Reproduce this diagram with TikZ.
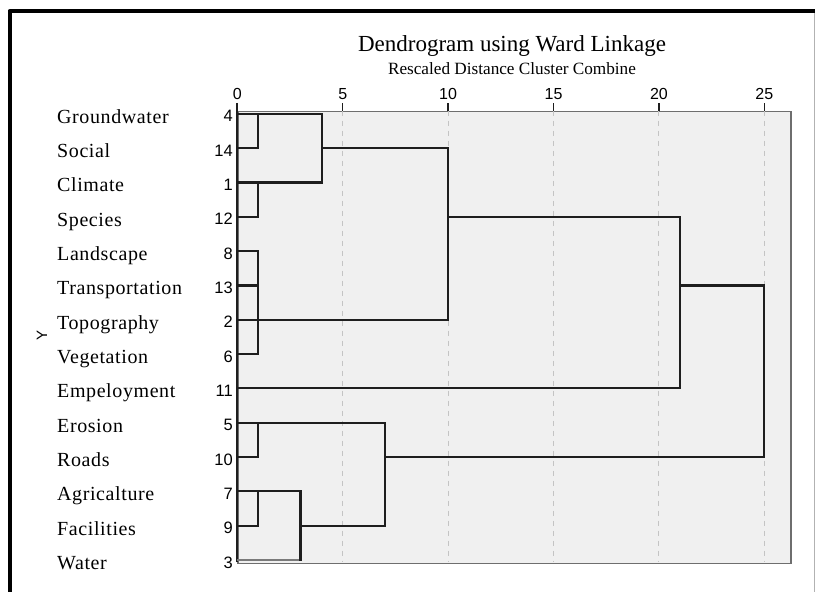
\documentclass[tikz,border=0pt]{standalone}
\usepackage{fontspec}
\setmainfont{Liberation Serif}
\newfontfamily\numfont{Liberation Sans}
\newfontfamily\leaffont[LetterSpace=3]{Liberation Serif}
\definecolor{plotbg}{HTML}{F0F0F0}
\definecolor{plotedge}{HTML}{6E6E6E}
\definecolor{gridc}{HTML}{C4C4C4}
\definecolor{linec}{HTML}{1E1E1E}
\definecolor{lightline}{HTML}{7A7A7A}
\begin{document}
\begin{tikzpicture}[x=1pt,y=-1pt,
  leafname/.style={anchor=base west,inner sep=0pt,font=\leaffont\fontsize{20}{21}\selectfont},
  leafnum/.style={anchor=base east,inner sep=0pt,font=\numfont\fontsize{16.5}{17}\selectfont},
  ticklab/.style={anchor=base,inner sep=0pt,font=\numfont\fontsize{16}{17}\selectfont},
  dline/.style={draw=linec,line width=2.1pt,line cap=rect},
  lline/.style={draw=lightline,line width=2.1pt},
  gridline/.style={draw=gridc,line width=1pt,dash pattern=on 5pt off 5pt},
  tickmark/.style={draw=linec,line width=1.5pt}]
\useasboundingbox (0,0) rectangle (815,592);
% outer frame (cropped at right and bottom)
\draw[line width=4pt,line join=round] (9.5,600) -- (9.5,11) -- (820,11);
\draw[line width=0.8pt,draw=gray!60] (814.5,13) -- (814.5,592);
% plot area
\node[draw=plotedge,fill=plotbg,line width=1.5pt,inner sep=0pt,minimum width=552.7pt,minimum height=452.2pt,anchor=north west] (plot) at (237.3,110.5) {};
% titles
\node[anchor=base,inner sep=0pt,font=\fontsize{23}{24}\selectfont] (title) at (512,51) {Dendrogram using Ward Linkage};
\node[anchor=base,inner sep=0pt,font=\fontsize{17.2}{18}\selectfont] (subtitle) at (512,74) {Rescaled Distance Cluster Combine};
\node[rotate=90,inner sep=0pt,font=\numfont\fontsize{15}{15}\selectfont] (ylab) at (42,335) {Y};
\begin{scope}[shift={(237.3pt,-113.8pt)},x=21.08pt,y=-34.33pt]
  % grid and ticks
  \foreach \u in {5,10,15,20,25} {
    \draw[gridline] (\u,-0.09) -- (\u,13.06);
  }
  \foreach \u in {0,5,10,15,20,25} {
    \coordinate (t\u) at (\u,-0.09);
    \draw[tickmark] (t\u) -- ++(0,-0.23);
    \node[ticklab] (tl\u) at (\u,-0.43) {\u};
  }
  \draw[dline,line cap=butt] (0,-0.32) -- (0,13.07);
  % leaves
  \foreach \i/\nm/\nb in {0/Groundwater/4,1/Social/14,2/Climate/1,3/Species/12,4/Landscape/8,5/Transportation/13,6/Topography/2,7/Vegetation/6,8/Empeloyment/11,9/Erosion/5,10/Roads/10,11/Agricalture/7,12/Facilities/9,13/Water/3} {
    \node[leafname] (name\i) at ([xshift=-180.3pt,yshift=-9.5pt]0,\i) {\nm};
    \node[leafnum] (num\i) at ([xshift=-4.3pt,yshift=-8pt]0,\i) {\nb};
    \coordinate (L\i) at (0,\i);
  }
  % merge points
  \coordinate (a0) at (1,0);  \coordinate (a1) at (1,1);
  \coordinate (b0) at (1,2);  \coordinate (b1) at (1,3);
  \coordinate (c0) at (1,4);  \coordinate (c1) at (1,5); \coordinate (c3) at (1,7);
  \coordinate (d0) at (4,0);  \coordinate (d1) at (4,1);  \coordinate (d2) at (4,2);
  \coordinate (e1) at (10,1); \coordinate (e3) at (10,3); \coordinate (e6) at (10,6);
  \coordinate (f3) at (21,3); \coordinate (f5) at (21,5); \coordinate (f8) at (21,8);
  \coordinate (g0) at (1,9);  \coordinate (g1) at (1,10);
  \coordinate (h0) at (1,11); \coordinate (h1) at (1,12);
  \coordinate (i0) at (3,11); \coordinate (i1) at (3,12); \coordinate (i2) at (3,13);
  \coordinate (j0) at (7,9);  \coordinate (j1) at (7,10); \coordinate (j3) at (7,12);
  \coordinate (k5) at (25,5); \coordinate (k10) at (25,10);
  % leaf horizontals
  \draw[dline] (L0) -- (d0);
  \draw[dline] (L1) -- (a1);
  \draw[dline] (L2) -- (d2);
  \draw[dline] (L3) -- (b1);
  \draw[dline] (L4) -- (c0);
  \draw[dline] (L5) -- (c1);
  \draw[dline] (L6) -- (e6);
  \draw[dline] (L7) -- (c3);
  \draw[dline] (L8) -- (f8);
  \draw[dline] (L9) -- (j0);
  \draw[dline] (L10) -- (g1);
  \draw[dline] (L11) -- (i0);
  \draw[dline] (L12) -- (h1);
  \draw[lline] (L13) -- (i2);
  % verticals and links
  \draw[dline] (a0) -- (a1);
  \draw[dline] (b0) -- (b1);
  \draw[dline] (c0) -- (c3);
  \draw[dline] (d0) -- (d2);
  \draw[dline] (d1) -- (e1);
  \draw[dline] (e1) -- (e6);
  \draw[dline] (e3) -- (f3);
  \draw[dline] (f3) -- (f8);
  \draw[dline] (f5) -- (k5);
  \draw[dline] (g0) -- (g1);
  \draw[dline] (h0) -- (h1);
  \draw[dline] (i0) -- (i2);
  \draw[dline] (i1) -- (j3);
  \draw[dline] (j0) -- (j3);
  \draw[dline] (j1) -- (k10);
  \draw[dline] (k5) -- (k10);
\end{scope}
\end{tikzpicture}
\end{document}
